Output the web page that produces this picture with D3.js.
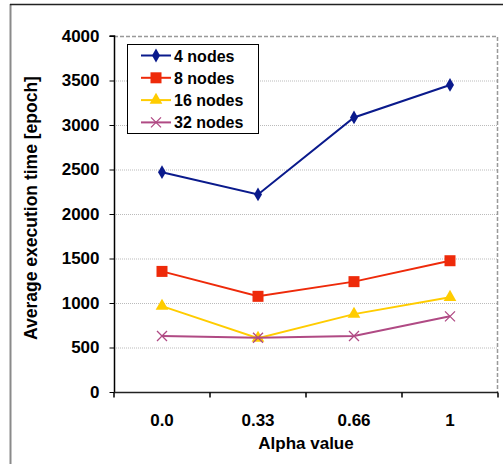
<!DOCTYPE html>
<html>
<head>
<meta charset="utf-8">
<script src="https://cdn.jsdelivr.net/npm/d3@7"></script>
<style>
  body { margin: 0; background: #fff; }
  svg { display: block; font-family: "Liberation Sans", Arial, sans-serif; }
</style>
</head>
<body>
<svg id="chart"></svg>
<script>
var alphas = ["0.0", "0.33", "0.66", "1"];
var seriesNames = ["4 nodes", "8 nodes", "16 nodes", "32 nodes"];
var nodes4 = [2470, 2220, 3085, 3450];
var nodes8 = [1355, 1075, 1240, 1475];
var nodes16 = [965, 605, 875, 1065];
var nodes32 = [630, 610, 630, 850];
var yTicks = [0, 500, 1000, 1500, 2000, 2500, 3000, 3500, 4000];

var colors = ["#0a1a8c", "#ee2a0a", "#ffcc00", "#b04a84"];
var shapes = ["diamond", "square", "triangle", "cross"];
var allSeries = [nodes4, nodes8, nodes16, nodes32];

var width = 503, height = 464;
var margin = {top: 36, right: 5, bottom: 72, left: 114};

var svg = d3.select("#chart")
  .attr("width", width)
  .attr("height", height);

// outer frame (only top and left edges show)
svg.append("line").attr("x1", 10.5).attr("x2", 10.5).attr("y1", 4).attr("y2", height)
  .attr("stroke", "#8a8a8a").attr("stroke-width", 2);
svg.append("line").attr("x1", 10).attr("x2", width).attr("y1", 4.5).attr("y2", 4.5)
  .attr("stroke", "#222").attr("stroke-width", 1.5);

var x = d3.scaleBand()
  .domain(alphas)
  .range([margin.left, width - margin.right]);

var y = d3.scaleLinear()
  .domain([0, 4000])
  .range([height - margin.bottom, margin.top]);

var plotL = margin.left, plotR = width - margin.right;
var plotT = margin.top, plotB = height - margin.bottom;

// gridlines
svg.append("g").selectAll("line")
  .data(yTicks.filter(function(d) { return d > 0 && d < 4000; }))
  .enter().append("line")
  .attr("x1", plotL).attr("x2", plotR)
  .attr("y1", function(d) { return y(d) + 0.5; })
  .attr("y2", function(d) { return y(d) + 0.5; })
  .attr("stroke", "#bbb").attr("stroke-dasharray", "1,1");

// plot area border: top and right dashed grey
svg.append("path")
  .attr("d", "M" + plotL + "," + (plotT + 0.5) + "H" + (plotR - 0.5) + "V" + plotB)
  .attr("fill", "none").attr("stroke", "#999").attr("stroke-dasharray", "4,2")
  .attr("stroke-width", 1.5);

// y axis
var yAxis = d3.axisLeft(y).tickValues(yTicks).tickFormat(d3.format("d")).tickSize(5).tickPadding(10);
var gy = svg.append("g")
  .attr("transform", "translate(" + (plotL + 0.5) + ",0)")
  .call(yAxis);
gy.attr("font-size", null).attr("font-family", null);
gy.select(".domain").attr("stroke", "#000").attr("stroke-width", 1.5)
  .attr("d", "M-5," + plotT + "H0V" + plotB);
gy.selectAll("text").attr("font-size", 17).attr("font-weight", "bold").attr("fill", "#000");

// x axis: ticks on band edges
var xAxis = d3.axisBottom(x).tickSize(0).tickPadding(21);
var gx = svg.append("g")
  .attr("transform", "translate(0," + (plotB + 0.5) + ")")
  .call(xAxis);
gx.attr("font-size", null).attr("font-family", null);
gx.select(".domain").attr("stroke", "#222").attr("stroke-width", 1.5)
  .attr("d", "M" + plotL + ",0H" + plotR);
gx.selectAll("text").attr("font-size", 17).attr("font-weight", "bold").attr("fill", "#000");
var edges = alphas.map(function(a) { return x(a); }).concat([x(alphas[3]) + x.bandwidth()]);
gx.selectAll(".edge").data(edges).enter().append("line")
  .attr("x1", function(d) { return d; }).attr("x2", function(d) { return d; })
  .attr("y1", 0).attr("y2", 5).attr("stroke", "#000").attr("stroke-width", 1.5);

// axis titles
svg.append("text")
  .attr("x", (plotL + plotR) / 2).attr("y", 449)
  .attr("text-anchor", "middle")
  .attr("font-size", 17).attr("font-weight", "bold")
  .text("Alpha value");
svg.append("text")
  .attr("transform", "translate(37,208) rotate(-90)")
  .attr("text-anchor", "middle")
  .attr("font-size", 17.5).attr("font-weight", "bold")
  .text("Average execution time [epoch]");

function drawMarker(g, shape, color, size) {
  if (shape === "diamond") {
    g.append("path").attr("d", d3.symbol().type(d3.symbolDiamond).size(size * 5.5)())
      .attr("fill", color);
  } else if (shape === "square") {
    g.append("rect").attr("x", -size / 2 - 0.5).attr("y", -size / 2 - 0.5)
      .attr("width", size + 1).attr("height", size + 1).attr("fill", color);
  } else if (shape === "triangle") {
    g.append("path").attr("d", d3.symbol().type(d3.symbolTriangle).size(size * 7)())
      .attr("fill", color);
  } else {
    var s = size / 2;
    g.append("path").attr("d", "M" + (-s) + "," + (-s) + "L" + s + "," + s + "M" + (-s) + "," + s + "L" + s + "," + (-s))
      .attr("stroke", color).attr("stroke-width", 1.3).attr("fill", "none");
  }
}

var line = d3.line()
  .x(function(d, i) { return x(alphas[i]) + x.bandwidth() / 2; })
  .y(function(d) { return y(d); });

allSeries.forEach(function(vals, k) {
  svg.append("path").datum(vals)
    .attr("d", line)
    .attr("fill", "none").attr("stroke", colors[k]).attr("stroke-width", 2);
  vals.forEach(function(v, i) {
    var g = svg.append("g")
      .attr("transform", "translate(" + (x(alphas[i]) + x.bandwidth() / 2) + "," + y(v) + ")");
    drawMarker(g, shapes[k], colors[k], 10);
  });
});

// legend
var legend = svg.append("g");
legend.append("rect")
  .attr("x", 127.5).attr("y", 44.5).attr("width", 131).attr("height", 89)
  .attr("fill", "#fff").attr("stroke", "#000").attr("stroke-width", 1);
seriesNames.forEach(function(name, k) {
  var ly = 55.5 + k * 22.3;
  legend.append("line").attr("x1", 141).attr("x2", 171).attr("y1", ly).attr("y2", ly)
    .attr("stroke", colors[k]).attr("stroke-width", 2);
  var g = legend.append("g").attr("transform", "translate(156," + ly + ")");
  drawMarker(g, shapes[k], colors[k], 10);
  legend.append("text").attr("x", 174).attr("y", ly + 6)
    .attr("font-size", 16).attr("font-weight", "bold").text(name);
});
</script>
</body>
</html>
